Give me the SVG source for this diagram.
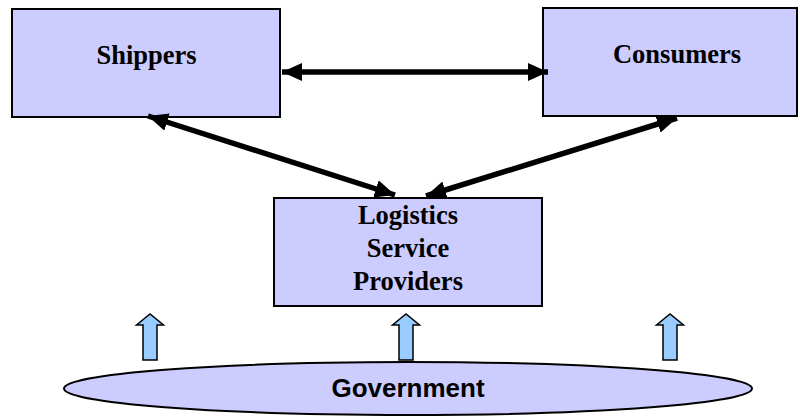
<svg xmlns="http://www.w3.org/2000/svg" width="800" height="416" viewBox="0 0 800 416">
<style>
.box{fill:#ccccff;stroke:#000;stroke-width:2}
.lbl{font-family:"Liberation Serif",serif;font-weight:bold;font-size:26.5px;fill:#000;text-anchor:middle}
.gov{font-family:"Liberation Sans",sans-serif;font-weight:bold;font-size:26px;fill:#000;text-anchor:middle}
.conn{stroke:#000;stroke-width:5.5;fill:none}
.blk{fill:#99ccff;stroke:#000;stroke-width:1.5;stroke-linejoin:miter}
</style>
<defs>
<marker id="ah" viewBox="0 0 20 18" refX="20" refY="9" markerWidth="20" markerHeight="18" orient="auto-start-reverse" markerUnits="userSpaceOnUse">
<path d="M0,0 L20,9 L0,18 z" fill="#000"/>
</marker>
</defs>
<rect width="800" height="416" fill="#fff"/>
<g id="shippers">
<rect class="box" x="12" y="9" width="268" height="108"/>
<text class="lbl" x="146.5" y="64">Shippers</text>
</g>
<g id="consumers">
<rect class="box" x="543" y="8" width="254" height="108"/>
<text class="lbl" x="677" y="63">Consumers</text>
</g>
<g id="lsp">
<rect class="box" x="274" y="198" width="268" height="108"/>
<text class="lbl" x="408" y="224">Logistics</text>
<text class="lbl" x="408" y="257">Service</text>
<text class="lbl" x="408" y="290">Providers</text>
</g>
<g id="government">
<ellipse class="box" cx="408" cy="388.5" rx="344" ry="26.5" stroke-width="1.5"/>
<text class="gov" x="408" y="397">Government</text>
</g>
<g id="connectors">
<line class="conn" x1="282" y1="72" x2="548" y2="72" marker-start="url(#ah)" marker-end="url(#ah)"/>
<line class="conn" x1="148" y1="116" x2="395" y2="195" marker-start="url(#ah)" marker-end="url(#ah)"/>
<line class="conn" x1="677" y1="118" x2="426" y2="196" marker-start="url(#ah)" marker-end="url(#ah)"/>
<path class="blk" d="M143,360 V325 H136.5 L150,314 L163.5,325 H157 V360 Z"/>
<path class="blk" d="M399,360 V325 H392.5 L406,314 L419.5,325 H413 V360 Z"/>
<path class="blk" d="M663,360 V325 H656.5 L670,314 L683.5,325 H677 V360 Z"/>
</g>
</svg>
